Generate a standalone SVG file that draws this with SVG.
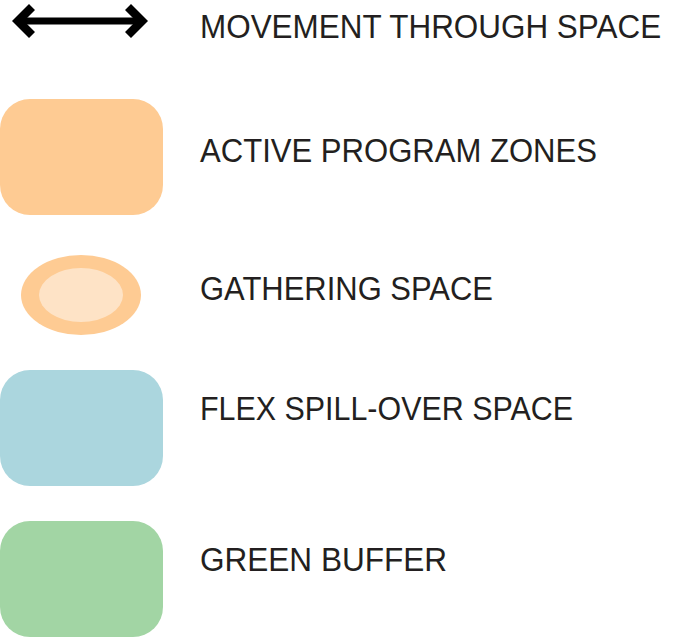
<svg xmlns="http://www.w3.org/2000/svg" width="673" height="640" viewBox="0 0 673 640">
<style>
.lbl{font-family:"Liberation Sans","Arial",sans-serif;font-size:34px;fill:#231f20}
.zone{fill:#fecb93}
</style>
<rect width="673" height="640" fill="#ffffff"/>
<g id="movement">
<rect x="20" y="17.5" width="120" height="7" fill="#000"/>
<polygon points="12,21 29,4 35,10 24,21 35,32 29,38" fill="#000"/>
<polygon points="148,21 131,4 125,10 136,21 125,32 131,38" fill="#000"/>
<text class="lbl" transform="translate(200,38) scale(0.925,1)" x="0" y="0">MOVEMENT THROUGH SPACE</text>
</g>
<g id="active">
<rect class="zone" x="0" y="99" width="163" height="116" rx="30" ry="30"/>
<text class="lbl" x="200" y="162" textLength="397" lengthAdjust="spacingAndGlyphs">ACTIVE PROGRAM ZONES</text>
</g>
<g id="gathering">
<ellipse cx="81" cy="295" rx="60" ry="40" fill="#fecb93"/>
<ellipse cx="81" cy="295" rx="42" ry="27" fill="#fee3c6"/>
<text class="lbl" x="200" y="300" textLength="293" lengthAdjust="spacingAndGlyphs">GATHERING SPACE</text>
</g>
<g id="flex">
<rect x="0" y="370" width="163" height="116" rx="30" ry="30" fill="#abd6de"/>
<text class="lbl" x="200" y="420" textLength="373" lengthAdjust="spacingAndGlyphs">FLEX SPILL-OVER SPACE</text>
</g>
<g id="green">
<rect x="0" y="521" width="163" height="116" rx="30" ry="30" fill="#a2d5a4"/>
<text class="lbl" x="200" y="571" textLength="247" lengthAdjust="spacingAndGlyphs">GREEN BUFFER</text>
</g>
</svg>
